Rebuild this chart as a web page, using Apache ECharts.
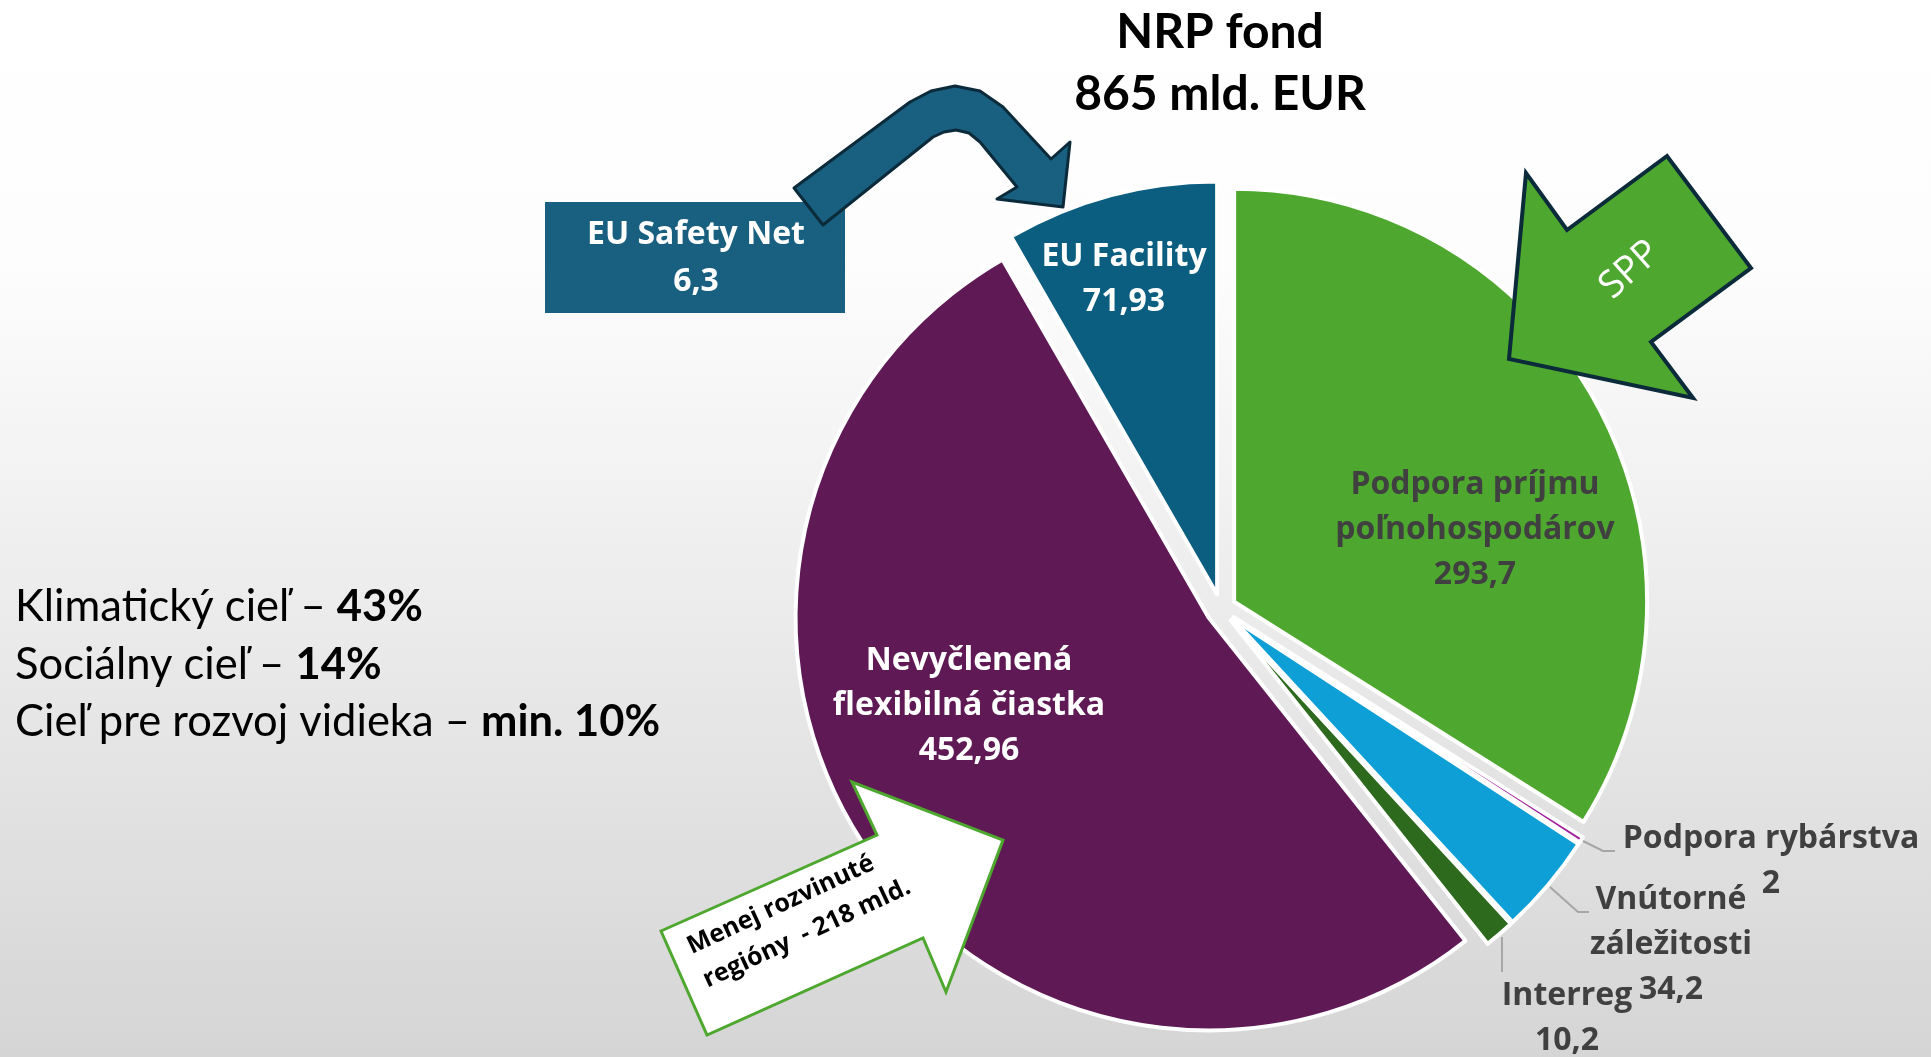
<!DOCTYPE html>
<html lang="sk">
<head>
  <meta charset="UTF-8">
  <title>NRP fond</title>
  <script src="https://cdn.jsdelivr.net/npm/echarts@6.0.0/dist/echarts.min.js"></script>
  <style>
    html, body { margin: 0; padding: 0; }
    #main { width: 1931px; height: 1057px; }
  </style>
</head>
<body>
<div id="main"></div>
<script>
  // údaje (mld. EUR)
  const categories = ['Podpora príjmu\npoľnohospodárov', 'Podpora rybárstva', 'Vnútorné\nzáležitosti', 'Interreg', 'Nevyčlenená\nflexibilná čiastka', 'EU Facility'];
  const values = [293.7, 2, 34.2, 10.2, 452.96, 71.93];
  const titleLines = ['NRP fond', '865 mld. EUR'];
  const safetyNet = { name: 'EU Safety Net', value: 6.3 };
  const goals = [['Klimatický cieľ – ', '43%'], ['Sociálny cieľ – ', '14%'], ['Cieľ pre rozvoj vidieka – ', 'min. 10%']];

  const colors = ['#4ea72e', '#a0209b', '#0e9fd6', '#2e6a1e', '#5f1a55', '#0b5e80'];
  const outside = [1, 2, 3];
  // stredy popisov (px)
  const labelPos = [[1475, 530], [1771, 861], [1671, 945], [1567, 1018], [969, 706], [1124, 279]];
  // vodiace čiary k malým výsekom
  const leaders = [
    [[1583, 841], [1603, 851], [1615, 851]],
    [[1550, 887], [1578, 912], [1589, 912]],
    [[1502, 937], [1502, 972]]
  ];

  const fmt = v => String(v).replace('.', ',');

  var chart = echarts.init(document.getElementById('main'), null, { width: 1931, height: 1057 });

  // rozložený koláč: každý výsek vo vlastnej sérii, posunutý po svojej osi
  const cx = 1221, cy = 609, R = 413, explode = 15;
  const total = values.reduce((a, b) => a + b, 0);
  var cum = 0;
  var series = values.map(function (val, k) {
    var mid = (cum + val / 2) / total * 2 * Math.PI;
    cum += val;
    var out = outside.indexOf(k) >= 0;
    return {
      type: 'pie',
      center: [cx + explode * Math.sin(mid), cy - explode * Math.cos(mid)],
      radius: R,
      startAngle: 90,
      clockwise: true,
      avoidLabelOverlap: false,
      silent: true,
      emphasis: { disabled: true },
      labelLine: { show: false },
      labelLayout: function (p) {
        var pos = labelPos[p.dataIndex];
        return { x: pos[0], y: pos[1], align: 'center', verticalAlign: 'middle' };
      },
      data: values.map(function (v, i) {
        if (i !== k) {
          return { name: categories[i], value: v, itemStyle: { color: 'rgba(0,0,0,0)', borderWidth: 0 }, label: { show: false } };
        }
        return {
          name: categories[i],
          value: v,
          itemStyle: { color: colors[i], borderColor: '#ffffff', borderWidth: 4 },
          label: {
            show: true,
            position: out ? 'outside' : 'inside',
            color: (i === 4 || i === 5) ? '#ffffff' : '#404040',
            fontFamily: 'Open Sans',
            fontWeight: 'bold',
            fontSize: 32,
            lineHeight: 45,
            align: 'center',
            formatter: function (p) { return p.name + '\n' + fmt(p.value); }
          }
        };
      })
    };
  });

  var option = {
    animation: false,
    graphic: [
      {
        type: 'rect', z: -10, silent: true,
        shape: { x: 0, y: 0, width: 1931, height: 1057 },
        style: {
          fill: new echarts.graphic.LinearGradient(0, 0, 0, 1, [
            { offset: 0, color: '#ffffff' },
            { offset: 0.25, color: '#fdfdfd' },
            { offset: 1, color: '#d5d5d5' }
          ])
        }
      },
      {
        type: 'text', x: 1220, y: 2, z: 50,
        style: {
          text: titleLines.join('\n'), fill: '#000',
          font: 'bold 48px Lato', lineHeight: 62, align: 'center', verticalAlign: 'top'
        }
      },
      // EU Safety Net
      {
        type: 'rect', z: 50,
        shape: { x: 545, y: 202, width: 300, height: 111 },
        style: { fill: '#185f80' }
      },
      {
        type: 'text', x: 696, y: 258, z: 51,
        style: {
          text: safetyNet.name + '\n' + fmt(safetyNet.value), fill: '#fff',
          font: 'bold 32px "Open Sans"', lineHeight: 47, align: 'center', verticalAlign: 'middle'
        }
      },
      {
        type: 'polygon', z: 52,
        shape: { points: [[794, 188], [910, 102], [931, 91], [955, 86], [980, 91], [1003, 107], [1051, 159], [1070, 142],
          [1063, 207], [997, 199], [1017, 187], [980, 142], [969, 133], [956, 130], [944, 132], [933, 137], [823, 225]] },
        style: { fill: '#185f80', stroke: '#0b2a3a', lineWidth: 3, lineJoin: 'round' }
      },
      // SPP
      {
        type: 'polygon', z: 52,
        shape: { points: [[1509, 359], [1526, 173], [1567, 230], [1667, 156], [1751, 268], [1651, 342], [1693, 398]] },
        style: { fill: '#4ea72e', stroke: '#0b2a3a', lineWidth: 4 }
      },
      {
        type: 'text', x: 1630, y: 270, z: 53, rotation: 42 * Math.PI / 180,
        style: { text: 'SPP', fill: '#fff', font: '38px "Open Sans"', align: 'center', verticalAlign: 'middle' }
      },
      // Menej rozvinuté regióny
      {
        type: 'polygon', z: 52,
        shape: { points: [[661, 931], [877, 835], [852, 782], [1003, 840], [946, 992], [923, 938], [707, 1035]] },
        style: { fill: '#ffffff', stroke: '#4ea72e', lineWidth: 3 }
      },
      {
        type: 'text', x: 681, y: 931, z: 53, rotation: 25 * Math.PI / 180,
        style: {
          text: 'Menej rozvinuté\nregióny  - 218 mld.', fill: '#000',
          font: 'bold 25px "Open Sans"', lineHeight: 37, align: 'left', verticalAlign: 'top'
        }
      }
    ].concat(leaders.map(function (pts) {
      return {
        type: 'polyline', z: 40, silent: true,
        shape: { points: pts },
        style: { stroke: '#a6a6a6', lineWidth: 2, fill: null }
      };
    })).concat(goals.map(function (g, i) {
      return {
        type: 'text', x: 15, y: 607 + i * 57.5, z: 50,
        style: {
          text: '{n|' + g[0] + '}{b|' + g[1] + '}',
          verticalAlign: 'middle', align: 'left',
          rich: {
            n: { fontFamily: 'Lato', fontSize: 43.5, color: '#000' },
            b: { fontFamily: 'Lato', fontSize: 43.5, fontWeight: 'bold', color: '#000' }
          }
        }
      };
    })),
    series: series
  };

  chart.setOption(option);
</script>
</body>
</html>
